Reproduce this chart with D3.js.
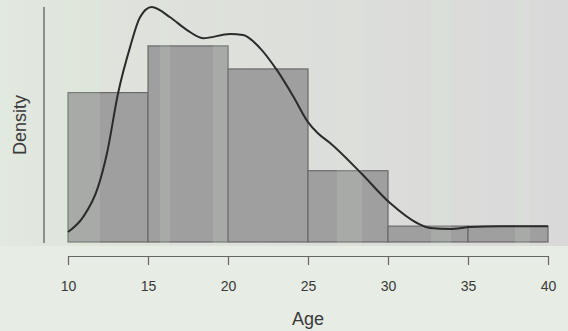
<!DOCTYPE html>
<html>
<head>
<meta charset="utf-8">
<script src="https://cdn.jsdelivr.net/npm/d3@7"></script>
<style>
  html, body { margin: 0; padding: 0; background: #dcdcdc; }
  svg { display: block; font-family: "Liberation Sans", Arial, sans-serif; }
</style>
</head>
<body>
<div id="app"></div>
<script>
// histogram of Age, density scale (bins of 5 years)
const binEdges = [10, 15, 20, 25, 30, 35, 40]
const binDensity = [0.048, 0.063, 0.0556, 0.0229, 0.0051, 0.0051]

// kernel density estimate
const kdeAge = [10, 10.94, 11.88, 12.44, 13.13, 13.88, 14.5, 15.23, 16.38, 17.44, 18.44, 20.13, 20.94, 22.0, 23.06, 24.1, 25.0, 25.6, 26.38, 28.25, 30.13, 31.81, 32.63, 33.88, 35.13, 37, 40]
const kdeDensity = [0.0032, 0.008, 0.0177, 0.0286, 0.0478, 0.0626, 0.0722, 0.0755, 0.0722, 0.0681, 0.0655, 0.0668, 0.0665, 0.0623, 0.0552, 0.0466, 0.0385, 0.0350, 0.0318, 0.0225, 0.0125, 0.0061, 0.0045, 0.0042, 0.0048, 0.0051, 0.0051]

const xTicks = [10, 15, 20, 25, 30, 35, 40]

const width = 568, height = 331
const svg = d3.select('#app').append('svg').attr('width', width).attr('height', height)

// backdrop (washed-out watermark look)
const defs = svg.append('defs')
const grad = defs.append('linearGradient').attr('id', 'bg').attr('x1', 0).attr('x2', 1).attr('y1', 0).attr('y2', 0)
grad.append('stop').attr('offset', '0%').attr('stop-color', '#e2e9df')
grad.append('stop').attr('offset', '18%').attr('stop-color', '#dfe3dc')
grad.append('stop').attr('offset', '100%').attr('stop-color', '#d9d9d9')
svg.append('rect').attr('width', width).attr('height', height).attr('fill', 'url(#bg)')
svg.append('rect').attr('y', 246).attr('width', width).attr('height', height - 246).attr('fill', '#e7ece4')

const x = d3.scaleLinear().domain([10, 40]).range([68, 548])
const y = d3.scaleLinear().domain([0, 0.0755]).range([242, 7])

const bins = binDensity.map((d, i) => ({ x0: binEdges[i], x1: binEdges[i + 1], d }))

svg.append('g')
  .selectAll('rect')
  .data(bins)
  .join('rect')
  .attr('x', (d) => x(d.x0))
  .attr('y', (d) => y(d.d))
  .attr('width', (d) => x(d.x1) - x(d.x0))
  .attr('height', (d) => y(0) - y(d.d))
  .attr('fill', '#9f9f9f')
  .attr('stroke', '#6a6a6a')
  .attr('stroke-width', 1.2)

// faint green stripes of the watermark over the plot
const stripes = [[62, 100], [160, 170], [213, 228], [337, 362], [431, 451], [515, 530]]
svg.append('g')
  .selectAll('rect')
  .data(stripes)
  .join('rect')
  .attr('x', (d) => d[0])
  .attr('y', 0)
  .attr('width', (d) => d[1] - d[0])
  .attr('height', 246)
  .attr('fill', '#dff0d6')
  .attr('opacity', 0.14)

const line = d3.line()
  .x((d) => x(d[0]))
  .y((d) => y(d[1]))
  .curve(d3.curveMonotoneX)

svg.append('path')
  .datum(d3.zip(kdeAge, kdeDensity))
  .attr('d', line)
  .attr('fill', 'none')
  .attr('stroke', '#2b2b2b')
  .attr('stroke-width', 2)

// x axis
const xAxis = svg.append('g')
  .attr('transform', 'translate(0,256)')
  .call(d3.axisBottom(x).tickValues(xTicks).tickSize(9).tickPadding(16).tickSizeOuter(0))
xAxis.select('.domain').attr('stroke', '#666').attr('stroke-width', 1.2)
xAxis.selectAll('.tick line').attr('stroke', '#666').attr('stroke-width', 1.2)
xAxis.selectAll('.tick text').attr('fill', '#3a3a3a').attr('font-size', 14)

// y axis line only
svg.append('line')
  .attr('x1', 44).attr('x2', 44)
  .attr('y1', y.range()[1]).attr('y2', y(0) + 1)
  .attr('stroke', '#555').attr('stroke-width', 1.2)

svg.append('text')
  .attr('x', 308).attr('y', 325)
  .attr('text-anchor', 'middle')
  .attr('font-size', 18)
  .attr('fill', '#3a3a3a')
  .text('Age')

svg.append('text')
  .attr('transform', 'translate(26,125) rotate(-90)')
  .attr('text-anchor', 'middle')
  .attr('font-size', 18)
  .attr('fill', '#3a3a3a')
  .text('Density')
</script>
</body>
</html>
